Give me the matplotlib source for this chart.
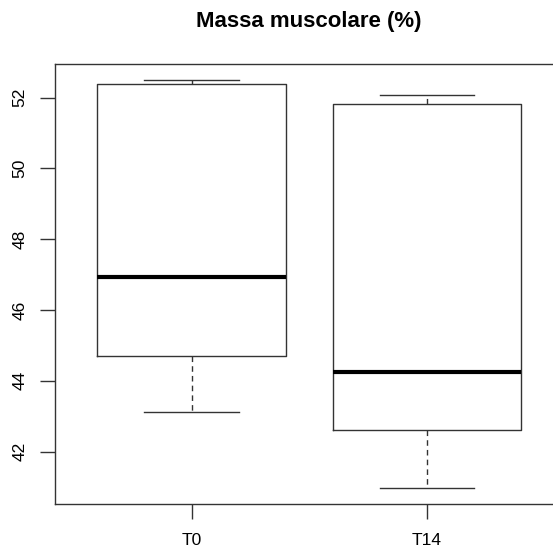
import matplotlib.pyplot as plt

# values
groups = ["T0", "T14"]
whislo = [43.12, 40.97]
q1 = [44.70, 42.60]
med = [46.94, 44.25]
q3 = [52.39, 51.82]
whishi = [52.50, 52.08]
yticks = [42, 44, 46, 48, 50, 52]

plt.rcParams['font.family'] = ['Liberation Sans', 'DejaVu Sans']

fig = plt.figure(figsize=(5.53, 5.51), dpi=100)
# right side of the plot frame is cut off in the reference
ax = fig.add_axes([55 / 553, 1 - 504 / 551, 508.4 / 553, 440 / 551])

stats = []
for i in range(len(groups)):
    stats.append({"label": groups[i], "whislo": whislo[i], "q1": q1[i],
                  "med": med[i], "q3": q3[i], "whishi": whishi[i], "fliers": []})

line = "#333333"
ax.bxp(stats, positions=[1, 2], widths=0.8, showfliers=False,
       boxprops=dict(color=line, linewidth=1),
       medianprops=dict(color="black", linewidth=3, solid_capstyle="butt"),
       whiskerprops=dict(color=line, linewidth=1, linestyle=(0, (4, 3))),
       capprops=dict(color=line, linewidth=1), capwidths=0.4)

ax.set_xlim(0.42, 2.58)
ax.set_ylim(40.52, 52.95)
ax.set_xticks([1, 2])
ax.set_xticklabels(groups)
ax.set_yticks(yticks)
ax.set_yticklabels([str(v) for v in yticks], rotation=90, va="center")
ax.tick_params(length=11, width=1, color=line, labelsize=12.5)
ax.tick_params(axis="y", pad=9)
ax.tick_params(axis="x", pad=10)
for s in ax.spines.values():
    s.set_color(line)
    s.set_linewidth(1)

fig.text(309 / 553, 1 - 22 / 551, "Massa muscolare (%)", ha="center", va="center",
         fontsize=16, fontweight="bold")

fig.savefig("out.png", dpi=100)
